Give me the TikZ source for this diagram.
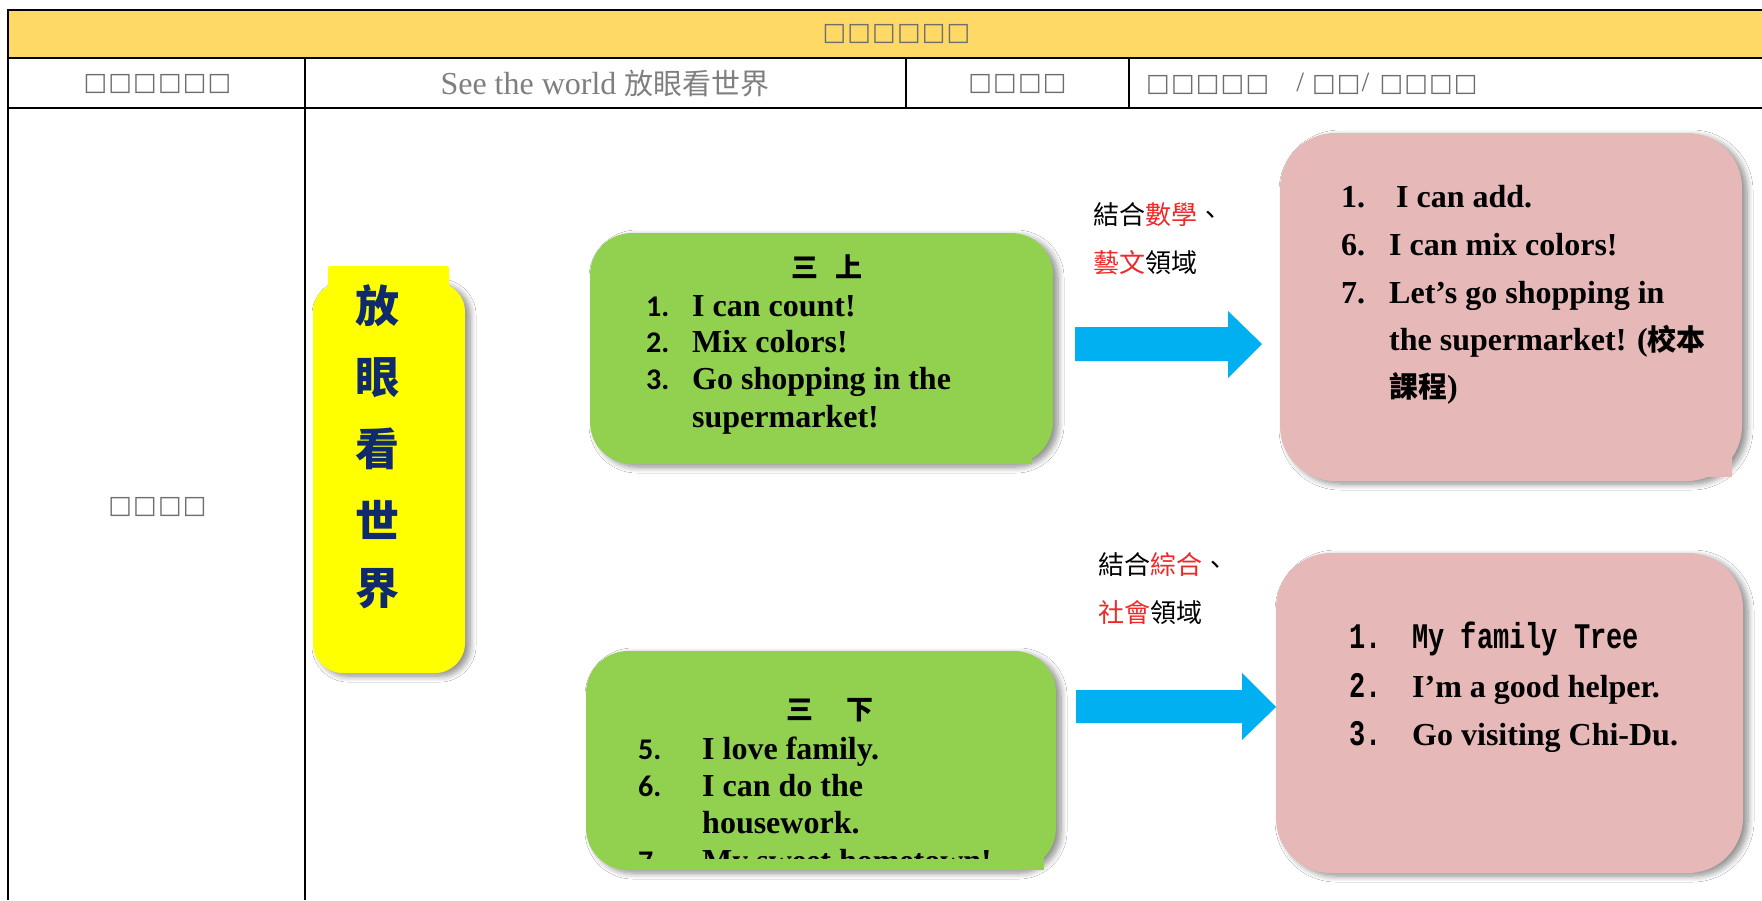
\documentclass[tikz,border=0pt]{standalone}
\usepackage{fontspec}
\setmainfont{Liberation Serif}
\newfontfamily\cjk{Noto Sans CJK TC}
\newfontfamily\numf{Carlito}
\newfontfamily\monof[FakeStretch=0.75]{Liberation Mono}
\newfontfamily\symf{DejaVu Sans}
\usetikzlibrary{shadows.blur}
\definecolor{hdr}{HTML}{FFD966}
\definecolor{tofugray}{HTML}{6E6E6E}
\definecolor{txtgray}{HTML}{7F7F7F}
\definecolor{greenfill}{HTML}{92D050}
\definecolor{pinkfill}{HTML}{E6B8B7}
\definecolor{yellowfill}{HTML}{FFFF00}
\definecolor{navy}{HTML}{0F2B6E}
\definecolor{arrowblue}{HTML}{00B0F0}
\definecolor{labred}{HTML}{F02828}
\newcommand\tb{□\kern1.2pt}
\newcommand\sls{{\fontspec{Liberation Serif}\fontsize{28}{28}\selectfont/}}
\begin{document}
\begin{tikzpicture}[x=1pt,y=-1pt,
  gridline/.style={line width=2pt,black},
  tofu/.style={inner sep=0pt,text=tofugray,font=\symf\fontsize{25}{25}\selectfont},
  boxshadow/.style={blur shadow={shadow xshift=5pt,shadow yshift=-3pt,shadow blur steps=8,shadow blur radius=6pt,shadow opacity=45}},
  greenbox/.style={fill=greenfill,rounded corners=42pt,boxshadow,inner sep=0pt},
  pinkbox/.style={fill=pinkfill,rounded corners=55pt,boxshadow,inner sep=0pt},
  item/.style={anchor=base west,inner sep=0pt,font=\bfseries\fontsize{32}{32}\selectfont},
  num/.style={anchor=base west,inner sep=0pt,font=\numf\bfseries\fontsize{30}{30}\selectfont},
  mnum/.style={anchor=base west,inner sep=0pt,font=\monof\bfseries\fontsize{36}{36}\selectfont},
  vchar/.style={inner sep=0pt,text=navy,font=\cjk\bfseries\fontsize{44}{44}\selectfont},
  grade/.style={inner sep=0pt,font=\cjk\bfseries\fontsize{27}{27}\selectfont},
  domlabel/.style={anchor=west,inner sep=0pt,font=\cjk\fontsize{26}{26}\selectfont},
  blockarrow/.style={fill=arrowblue}
]
\useasboundingbox (0,0) rectangle (1762,900);
\fill[white] (0,0) rectangle (1762,900);

% ---- table ----
\fill[hdr] (8,10) rectangle (1762,58);
\draw[gridline] (8,58) -- (1762,58);
\draw[gridline] (8,108) -- (1762,108);
\draw[line width=2.5pt] (6.75,10) -- (1762,10);
\draw[line width=2.5pt] (8,10) -- (8,900);
\draw[gridline] (305,58) -- (305,900);
\draw[gridline] (906,58) -- (906,108);
\draw[gridline] (1129,58) -- (1129,108);

\node[tofu,text=tofugray] (title) at (897,34) {\tb\tb\tb\tb\tb\tb};
\node[tofu] (c1) at (158,84) {\tb\tb\tb\tb\tb\tb};
\node[inner sep=0pt,text=txtgray,font=\fontsize{32}{32}\selectfont] (c2) at (605,84) {See the world {\cjk\fontsize{29}{29}\selectfont 放眼看世界}};
\node[tofu] (c3) at (1018,84) {\tb\tb\tb\tb};
\node[tofu,anchor=west] (c4) at (1146,84) {\tb\tb\tb\tb\tb\kern26pt\sls\kern8pt\tb\tb\sls\kern10pt\tb\tb\tb\tb};
\node[tofu] (left) at (158,507) {\tb\tb\tb\tb};

% ---- yellow title bar ----
\node[fill=yellowfill,rounded corners=30pt,boxshadow,minimum width=152pt,minimum height=391pt,inner sep=0pt] (yb) at (389,477.5) {};
\fill[yellowfill,rounded corners=2pt] (328,266) rectangle (449,310);
\node[vchar] (v1) at (377,306) {放};
\node[vchar] (v2) at (377,378) {眼};
\node[vchar] (v3) at (377,449) {看};
\node[vchar] (v4) at (377,520) {世};
\node[vchar] (v5) at (377,589) {界};

% ---- green boxes ----
\node[greenbox,minimum width=463pt,minimum height=231pt] (g1) at (821.5,348.5) {};
\fill[greenfill] (1000,440) rectangle (1032,464);
\node[grade] (g1t) at (827,267) {三\hspace{18pt}上};
\node[num] (g1n1) at (646,316) {1.};
\node[item] (g1i1) at (692,316) {I can count!};
\node[num] (g1n2) at (646,352) {2.};
\node[item] (g1i2) at (692,352) {Mix colors!};
\node[num] (g1n3) at (646,389) {3.};
\node[item] (g1i3) at (692,389) {Go shopping in the};
\node[item] (g1i4) at (692,427) {supermarket!};

\node[greenbox,minimum width=470pt,minimum height=219pt] (g2) at (821,760.5) {};
\fill[greenfill] (1000,845) rectangle (1044,869.5);
\node[grade] (g2t) at (830,710) {三\hspace{33pt}下};
\node[num] (g2n1) at (638,759) {5.};
\node[item] (g2i1) at (702,759) {I love family.};
\node[num] (g2n2) at (638,796) {6.};
\node[item] (g2i2) at (702,796) {I can do the};
\node[item] (g2i3) at (702,833) {housework.};
\begin{scope}
\clip (586,651) rectangle (1056,858);
\node[num] (g2n4) at (638,871) {7.};
\node[item] (g2i4) at (702,871) {My sweet hometown!};
\end{scope}

% ---- pink boxes ----
\node[pinkbox,minimum width=462pt,minimum height=348pt] (p1) at (1511,307) {};
\fill[pinkfill] (1700,440) rectangle (1732,477);
\node[item] (p1n1) at (1341,207) {1.};
\node[item] (p1i1) at (1396,207) {I can add.};
\node[item] (p1n2) at (1341,255) {6.};
\node[item] (p1i2) at (1389,255) {I can mix colors!};
\node[item] (p1n3) at (1341,303) {7.};
\node[item] (p1i3) at (1389,303) {Let’s go shopping in};
\node[item] (p1i4) at (1389,350) {the supermarket! ({\cjk\fontsize{29}{29}\selectfont 校本}};
\node[item] (p1i5) at (1389,397) {{\cjk\fontsize{29}{29}\selectfont 課程})};

\node[pinkbox,minimum width=467pt,minimum height=320pt] (p2) at (1509.5,713) {};
\node[mnum] (p2n1) at (1349,648) {1.};
\node[mnum] (p2i1) at (1412,648) {My family Tree};
\node[mnum] (p2n2) at (1349,697) {2.};
\node[item] (p2i2) at (1412,697) {I’m a good helper.};
\node[mnum] (p2n3) at (1349,745) {3.};
\node[item] (p2i3) at (1412,745) {Go visiting Chi-Du.};

% ---- domain labels ----
\node[domlabel] (d1a) at (1093,215) {結合{\color{labred}數學}、};
\node[domlabel] (d1b) at (1093,263) {{\color{labred}藝文}領域};
\node[domlabel] (d2a) at (1098,565) {結合{\color{labred}綜合}、};
\node[domlabel] (d2b) at (1098,613) {{\color{labred}社會}領域};

% ---- block arrows ----
\fill[blockarrow] (1075,327) -- (1228,327) -- (1228,311) -- (1262,344) -- (1228,378) -- (1228,361) -- (1075,361) -- cycle;
\fill[blockarrow] (1076,690) -- (1242,690) -- (1242,673) -- (1276,707) -- (1242,740) -- (1242,723) -- (1076,723) -- cycle;
\end{tikzpicture}
\end{document}
